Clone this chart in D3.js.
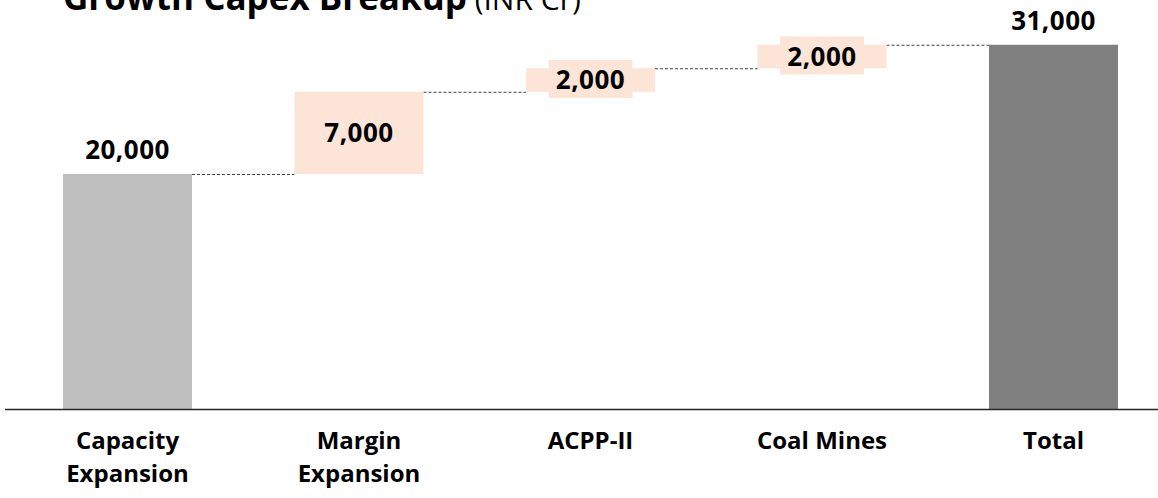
<!DOCTYPE html>
<html>
<head>
<meta charset="utf-8">
<script src="https://cdn.jsdelivr.net/npm/d3@7"></script>
<style>
  body { margin: 0; background: #fff; }
  text { font-family: "Open Sans", sans-serif; }
</style>
</head>
<body>
<svg width="1158" height="498"></svg>
<script>
// waterfall data (INR Cr)
var categories = ["Capacity Expansion", "Margin Expansion", "ACPP-II", "Coal Mines", "Total"];
var values = [20000, 7000, 2000, 2000, 31000];
var kinds = ["base", "step", "step", "step", "total"];
var labels = ["20,000", "7,000", "2,000", "2,000", "31,000"];

var svg = d3.select("svg"),
    width = +svg.attr("width"),
    height = +svg.attr("height");

var baseY = 409;

// build start/end for each bar
var running = 0;
var rows = categories.map(function(c, i) {
    var r = { cat: c, value: values[i], kind: kinds[i], label: labels[i] };
    if (kinds[i] == "step") {
        r.y0 = running; r.y1 = running + values[i];
        running = r.y1;
    } else {
        r.y0 = 0; r.y1 = values[i];
        running = values[i];
    }
    return r;
});

var x = d3.scaleBand()
    .domain(categories)
    .range([11.75, 1169.25])
    .paddingInner(0.443)
    .paddingOuter(0.2215);

var y = d3.scaleLinear()
    .domain([0, 20000])
    .range([baseY, 174]);

var colour = { base: "#bfbfbf", step: "#fce4d6", total: "#808080" };

// title (sits partly above the top edge, as in the original)
var title = svg.append("text")
    .attr("x", 63)
    .attr("y", 10)
    .attr("font-size", "35px")
    .attr("fill", "#000");
title.append("tspan").attr("font-weight", "bold").text("Growth Capex Breakup");
title.append("tspan").attr("font-size", "30px").text(" (INR Cr)");

// connectors
rows.forEach(function(d, i) {
    if (i == rows.length - 1) return;
    svg.append("line")
        .attr("x1", x(d.cat) + x.bandwidth())
        .attr("x2", x(rows[i + 1].cat))
        .attr("y1", y(d.y1) + 0.5)
        .attr("y2", y(d.y1) + 0.5)
        .attr("stroke", "#404040")
        .attr("stroke-width", 1)
        .attr("stroke-dasharray", "3,2");
});

// bars
svg.selectAll("rect.bar")
    .data(rows)
    .enter().append("rect")
    .attr("class", "bar")
    .attr("x", d => x(d.cat))
    .attr("y", d => y(d.y1))
    .attr("width", x.bandwidth())
    .attr("height", d => y(d.y0) - y(d.y1))
    .attr("fill", d => colour[d.kind]);

// value labels
rows.forEach(function(d) {
    var cx = x(d.cat) + x.bandwidth() / 2;
    var mid = (y(d.y0) + y(d.y1)) / 2;
    var ty = d.kind == "step" ? mid + 9 : y(d.y1) - 15;
    // small steps get a label box the same colour as the bar
    if (d.kind == "step" && (y(d.y0) - y(d.y1)) < 40) {
        svg.append("rect")
            .attr("x", cx - 42)
            .attr("y", mid - 20)
            .attr("width", 84)
            .attr("height", 38)
            .attr("fill", colour.step);
    }
    svg.append("text")
        .attr("x", cx)
        .attr("y", ty)
        .attr("text-anchor", "middle")
        .attr("font-size", "26px")
        .attr("font-weight", "bold")
        .attr("letter-spacing", "0.5px")
        .attr("fill", "#000")
        .text(d.label);
});

// axis line
svg.append("line")
    .attr("x1", 5)
    .attr("x2", width)
    .attr("y1", baseY + 0.5)
    .attr("y2", baseY + 0.5)
    .attr("stroke", "#262626")
    .attr("stroke-width", 1.5);

// category labels (wrapped on space for the two-word names)
rows.forEach(function(d) {
    var cx = x(d.cat) + x.bandwidth() / 2;
    var words = d.cat.split(" ");
    var lines = (words.length == 2 && d.cat != "Coal Mines") ? words : [d.cat];
    var t = svg.append("text")
        .attr("x", cx)
        .attr("y", 449)
        .attr("text-anchor", "middle")
        .attr("font-size", "24px")
        .attr("font-weight", "bold")
        .attr("fill", "#000");
    lines.forEach(function(l, j) {
        t.append("tspan").attr("x", cx).attr("dy", j == 0 ? 0 : 33).text(l);
    });
});
</script>
</body>
</html>
